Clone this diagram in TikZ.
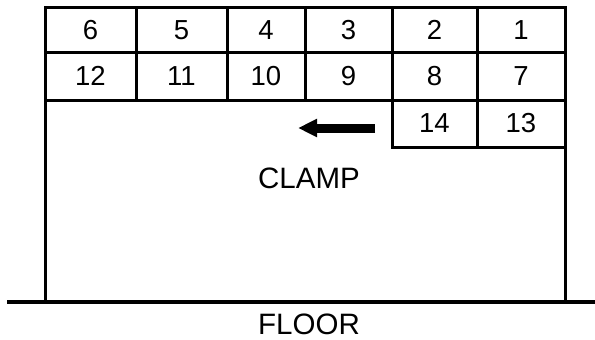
\documentclass[tikz,border=0pt]{standalone}
\usepackage{fontspec}
\setmainfont{Liberation Sans}
\usetikzlibrary{arrows.meta}

\begin{document}
\begin{tikzpicture}[x=1pt,y=-1pt,
    cell/.style={draw, line width=3pt, rectangle, inner sep=0pt, outer sep=0pt,
                 anchor=north west, font=\fontsize{27.5}{27.5}\selectfont},
    wall/.style={line width=3pt},
    floorline/.style={line width=4.5pt},
    label/.style={font=\fontsize{29.5}{29.5}\selectfont, inner sep=0pt}]
  \useasboundingbox (0,0) rectangle (595,340);

  % top row of cells
  \node[cell, minimum width=91pt, minimum height=45.5pt] (c6)  at (45,7)  {6};
  \node[cell, minimum width=91pt, minimum height=45.5pt] (c5)  at (136,7) {5};
  \node[cell, minimum width=78pt, minimum height=45.5pt] (c4)  at (227,7) {4};
  \node[cell, minimum width=87pt, minimum height=45.5pt] (c3)  at (305,7) {3};
  \node[cell, minimum width=85pt, minimum height=45.5pt] (c2)  at (392,7) {2};
  \node[cell, minimum width=88pt, minimum height=45.5pt] (c1)  at (477,7) {1};
  % second row of cells
  \node[cell, minimum width=91pt, minimum height=47.5pt] (c12) at (45,52.5)  {12};
  \node[cell, minimum width=91pt, minimum height=47.5pt] (c11) at (136,52.5) {11};
  \node[cell, minimum width=78pt, minimum height=47.5pt] (c10) at (227,52.5) {10};
  \node[cell, minimum width=87pt, minimum height=47.5pt] (c9)  at (305,52.5) {9};
  \node[cell, minimum width=85pt, minimum height=47.5pt] (c8)  at (392,52.5) {8};
  \node[cell, minimum width=88pt, minimum height=47.5pt] (c7)  at (477,52.5) {7};
  % third row, right side only
  \node[cell, minimum width=85pt, minimum height=47pt] (c14) at (392,100) {14};
  \node[cell, minimum width=88pt, minimum height=47pt] (c13) at (477,100) {13};

  % floor
  \coordinate (floorL) at (7,302);
  \coordinate (floorR) at (595,302);
  \draw[floorline] (floorL) -- (floorR);

  % clamp walls down to the floor
  \draw[wall] (c12.south west) -- (c12.south west |- floorL);
  \draw[wall] (c13.south east) -- (c13.south east |- floorL);

  % direction arrow
  \coordinate (arrTail) at (375,128);
  \coordinate (arrTip) at (298,128);
  \draw[line width=9pt, -{Triangle[length=19pt,width=17pt]}] (arrTail) -- (arrTip);

  % labels
  \node[label] (clamp) at (309,178) {CLAMP};
  \node[label] (floor) at (309,324) {FLOOR};
\end{tikzpicture}
\end{document}
